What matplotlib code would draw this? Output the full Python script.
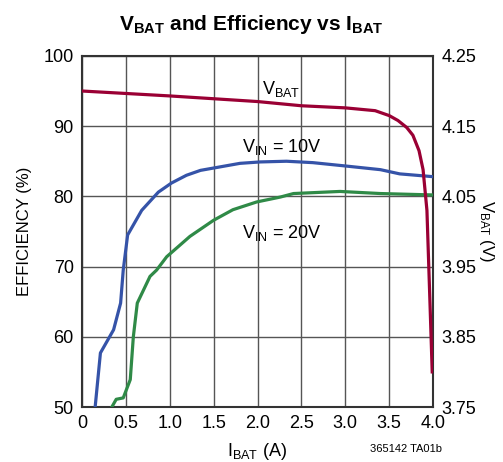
import matplotlib
matplotlib.use("Agg")
from matplotlib import pyplot as plt

fnt = ['Liberation Sans Narrow', 'Liberation Sans', 'DejaVu Sans']
plt.rcParams['font.family'] = fnt
plt.rcParams['mathtext.fontset'] = 'custom'
plt.rcParams['mathtext.rm'] = 'Liberation Sans'
plt.rcParams['mathtext.it'] = 'Liberation Sans'
plt.rcParams['mathtext.bf'] = 'Liberation Sans:bold'

# efficiency, VIN = 10V
i_10 = [0.15, 0.21, 0.36, 0.44, 0.47, 0.52, 0.68, 0.87, 1.02, 1.19, 1.35, 1.53, 1.80,
        2.03, 2.33, 2.63, 3.02, 3.40, 3.62, 4.0]
eff_10 = [50, 57.7, 61, 64.8, 69.5, 74.5, 78, 80.6, 81.9, 83, 83.7, 84.1, 84.7,
          84.9, 85.0, 84.8, 84.3, 83.8, 83.2, 82.8]

# efficiency, VIN = 20V
i_20 = [0.34, 0.39, 0.47, 0.55, 0.585, 0.63, 0.775, 0.85, 0.965, 1.23, 1.50, 1.72,
        1.99, 2.26, 2.41, 2.94, 3.40, 4.0]
eff_20 = [50, 51.1, 51.3, 53.9, 60, 64.8, 68.6, 69.5, 71.4, 74.3, 76.6, 78.1,
          79.2, 79.9, 80.4, 80.7, 80.4, 80.2]

# battery voltage
i_vb = [0.0, 1.0, 2.0, 2.5, 3.0, 3.34, 3.50, 3.60, 3.70, 3.77, 3.84, 3.886, 3.93, 3.966, 3.99]
v_bat = [4.200, 4.193, 4.185, 4.179, 4.176, 4.172, 4.165, 4.158, 4.148, 4.137, 4.115, 4.088,
         4.03, 3.893, 3.80]

x_ticks = [0, 0.5, 1.0, 1.5, 2.0, 2.5, 3.0, 3.5, 4.0]
x_labels = ['0', '0.5', '1.0', '1.5', '2.0', '2.5', '3.0', '3.5', '4.0']
y_ticks = [50, 60, 70, 80, 90, 100]
v_ticks = [3.75, 3.85, 3.95, 4.05, 4.15, 4.25]

red = '#9a0034'
blue = '#3553a8'
green = '#2f8a47'

fig = plt.figure(figsize=(5.03, 4.62), dpi=100)
ax = fig.add_axes([0.163, 0.119, 0.698, 0.760])
ax.set_xlim(0, 4)
ax.set_ylim(50, 100)
ax.set_xticks(x_ticks)
ax.set_xticklabels(x_labels)
ax.set_yticks(y_ticks)
ax.grid(True, color='#555555', lw=1.0)
ax.tick_params(length=0, labelsize=13, pad=6)
for s in ax.spines.values():
    s.set_linewidth(1.5)
    s.set_color('#333333')

ax.plot(i_10, eff_10, color=blue, lw=2.3, zorder=3)
ax.plot(i_20, eff_20, color=green, lw=2.3, zorder=3)

ax2 = ax.twinx()
ax2.set_ylim(3.75, 4.25)
ax2.set_yticks(v_ticks)
ax2.set_yticklabels(['%.2f' % v for v in v_ticks])
ax2.tick_params(length=0, labelsize=13, pad=6)
for s in ax2.spines.values():
    s.set_visible(False)
ax2.plot(i_vb, v_bat, color=red, lw=2.3, zorder=3)

ax.set_xlabel(r'I$_{\mathrm{BAT}}$ (A)', fontsize=13, labelpad=6)
ax.set_ylabel('EFFICIENCY (%)', fontsize=12, labelpad=8)
ax2.set_ylabel(r'V$_{\mathrm{BAT}}$ (V)', fontsize=12, rotation=-90, labelpad=14)

ax.text(2.05, 94.6, r'V$_{\mathrm{BAT}}$', fontsize=13, ha='left')
ax.text(1.82, 86.3, r'V$_{\mathrm{IN}}$ = 10V', fontsize=13, ha='left')
ax.text(1.82, 74.0, r'V$_{\mathrm{IN}}$ = 20V', fontsize=13, ha='left')

fig.text(0.5, 0.935, r'$\mathbf{V_{BAT}}$ and Efficiency vs $\mathbf{I_{BAT}}$',
         fontsize=15, fontweight='bold', ha='center')
fig.text(0.735, 0.022, '365142 TA01b', fontsize=8)

fig.savefig('out.png', dpi=100)
